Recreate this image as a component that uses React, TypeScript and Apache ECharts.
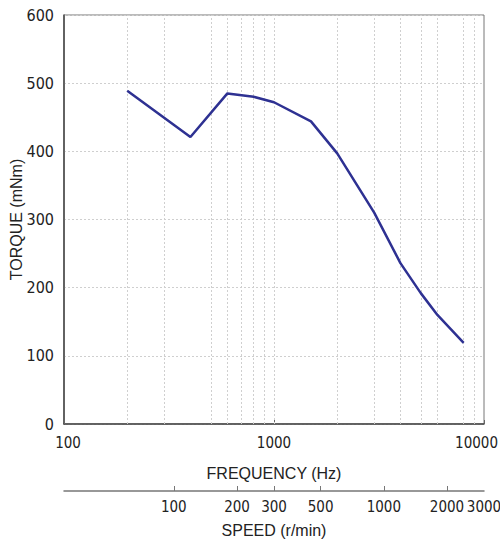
import React, { useEffect, useRef } from "react";
import * as echarts from "echarts";

// Frequency (Hz) vs torque (mNm)
const frequencies = [200, 400, 600, 800, 1000, 1500, 2000, 3000, 4000, 5000, 6000, 7000, 8000];
const torques = [489, 421, 485, 480, 472, 444, 397, 310, 236, 192, 160, 138, 119];

const freqRange = [100, 10000];
const torqueTicks = [0, 100, 200, 300, 400, 500, 600];
const gridFreqs = [200, 300, 500, 600, 700, 800, 900, 1000, 2000, 3000, 4000, 5000, 6000, 8000, 9000];

// Secondary speed scale (r/min)
const speedRange = [30, 3000];
const speedTicks = [100, 200, 300, 500, 1000, 2000, 3000];

const NARROW = "'Liberation Sans Narrow', 'Arial Narrow', 'DejaVu Sans Condensed', sans-serif";
const SANS = "'Liberation Sans', Arial, sans-serif";
const NUM_SIZE = 15;

export default function App() {
  const ref = useRef<HTMLDivElement>(null);

  useEffect(() => {
    if (!ref.current) return;
    const chart = echarts.init(ref.current, undefined, { renderer: "svg" });
    const lg = (v: number) => Math.log10(v);
    // padded label list: first and last entries are blank placeholders
    const speedLabelValues = [lg(speedRange[0]), ...speedTicks.map(lg), lg(speedRange[1])];
    const lastIdx = speedLabelValues.length - 1;
    const numStyle = { fontFamily: NARROW, fontSize: NUM_SIZE, color: "#222" };
    const option: any = {
      animation: false,
      backgroundColor: "#ffffff",
      grid: {
        left: 64,
        right: 16,
        top: 15,
        bottom: 116,
        show: true,
        borderColor: "#777",
        borderWidth: 1,
        containLabel: false,
        outerBoundsMode: "none",
      },
      xAxis: [
        {
          type: "log",
          logBase: 10,
          min: freqRange[0],
          max: freqRange[1],
          position: "bottom",
          name: "FREQUENCY (Hz)",
          nameLocation: "middle",
          nameGap: 41,
          nameMoveOverlap: false,
          nameTextStyle: { fontFamily: SANS, fontSize: 16, color: "#222" },
          axisLine: { show: true, lineStyle: { color: "#444", width: 1.5 } },
          axisTick: { show: true, inside: true, length: 4, lineStyle: { color: "#666" } },
          axisLabel: {
            ...numStyle,
            margin: 11,
            showMinLabel: true,
            showMaxLabel: true,
            hideOverlap: false,
            formatter: (v: number) => {
              const s = String(Math.round(v));
              if (v >= freqRange[1]) return "{r|" + s + "}";
              if (v <= freqRange[0]) return "{l|" + s + "}";
              return s;
            },
            rich: {
              r: { ...numStyle, padding: [0, 15, 0, 0] },
              l: { ...numStyle, padding: [0, 0, 0, 8] },
            },
          },
          splitLine: { show: false },
        },
        {
          type: "value",
          min: lg(speedRange[0]),
          max: lg(speedRange[1]),
          position: "bottom",
          offset: 67,
          name: "SPEED (r/min)",
          nameLocation: "middle",
          nameGap: 31,
          nameMoveOverlap: false,
          nameTextStyle: { fontFamily: SANS, fontSize: 16, color: "#222" },
          axisLine: { show: true, lineStyle: { color: "#777", width: 1.5 } },
          axisTick: {
            show: true,
            inside: true,
            length: 5,
            lineStyle: { color: "#777" },
            customValues: [lg(speedRange[0]), ...speedTicks.map(lg)],
          },
          axisLabel: {
            ...numStyle,
            margin: 8,
            showMinLabel: false,
            showMaxLabel: false,
            hideOverlap: false,
            customValues: speedLabelValues,
            formatter: (v: number, idx: number) => {
              if (idx === 0 || idx === lastIdx) return "";
              const s = String(Math.round(Math.pow(10, v)));
              if (idx === lastIdx - 1) return "{r|" + s + "}";
              if (idx === lastIdx - 2) return "{q|" + s + "}";
              return s;
            },
            rich: {
              r: { ...numStyle, padding: [0, 5, 0, 0] },
              q: { ...numStyle, padding: [0, 8, 0, 0] },
            },
          },
          splitLine: { show: false },
        },
      ],
      yAxis: {
        type: "value",
        min: torqueTicks[0],
        max: torqueTicks[torqueTicks.length - 1],
        interval: 100,
        name: "TORQUE (mNm)",
        nameLocation: "middle",
        nameGap: 40,
        nameMoveOverlap: false,
        nameTextStyle: { fontFamily: SANS, fontSize: 16, color: "#222" },
        axisLine: { show: true, lineStyle: { color: "#444", width: 1.5 } },
        axisTick: { show: false },
        axisLabel: { ...numStyle, fontSize: 16, margin: 10 },
        splitLine: { show: true, lineStyle: { color: "#cfcfcf", type: [2, 2], width: 1 } },
      },
      series: [
        {
          type: "line",
          xAxisIndex: 0,
          data: frequencies.map((f, i) => [f, torques[i]]),
          symbol: "none",
          lineStyle: { color: "#2e3192", width: 2.5 },
          markLine: {
            silent: true,
            symbol: ["none", "none"],
            label: { show: false },
            lineStyle: { color: "#cfcfcf", type: [2, 2], width: 1 },
            data: gridFreqs.map((f) => ({ xAxis: f })),
            z: 1,
          },
          z: 3,
        },
      ],
    };
    chart.setOption(option);
    return () => chart.dispose();
  }, []);

  return (
    <div
      ref={ref}
      style={{ position: "fixed", left: 0, top: 0, width: 500, height: 540, background: "#fff" }}
    />
  );
}
